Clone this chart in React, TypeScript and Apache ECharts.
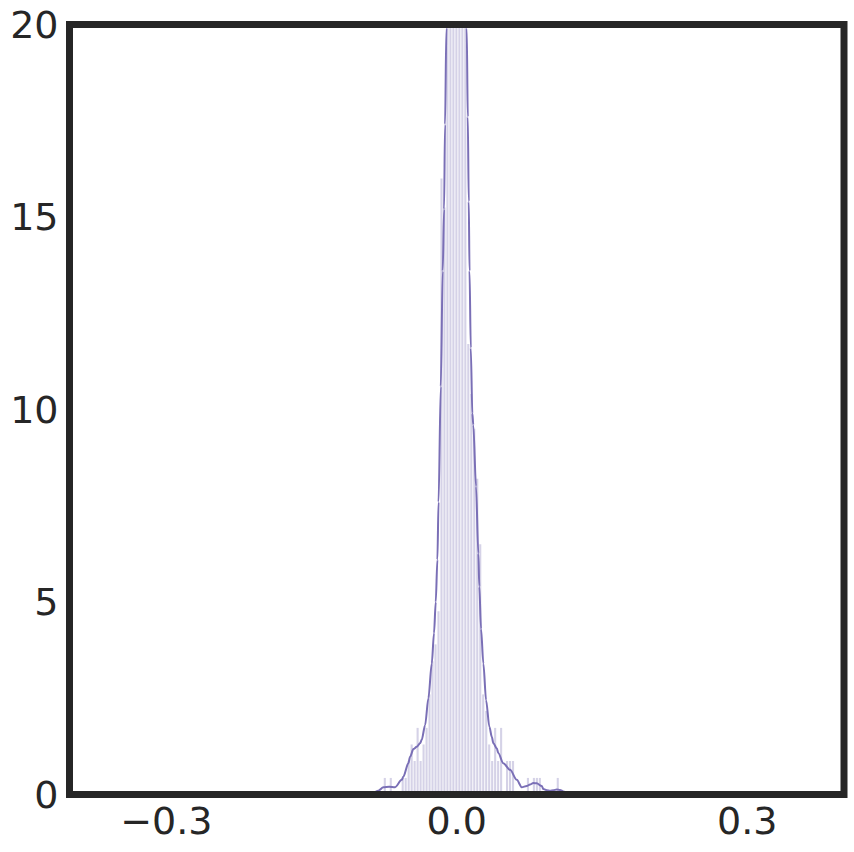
import React, { useEffect, useRef } from "react";
import * as echarts from "echarts";

// Histogram (density) — bins of equal width
const binStart = -0.0743; // centre of first bin
const binWidth = 0.00308;
const histDensity = [
  0.43, 0, 0.43, 0, 0, 0, 0.43, 0.43, 0.87, 1.3,
  0.87, 1.73, 0.87, 1.3, 1.73, 2.6, 3.46, 3.9, 4.76, 16.0,
  15.25, 24, 28, 31, 32, 30, 27, 23, 11.7, 10.4,
  9.5, 8.2, 6.5, 2.6, 2.17, 1.3, 0.87, 1.73, 0.87, 1.73,
  0, 0.87, 0.87, 0.87, 0, 0, 0, 0, 0.43, 0,
  0.43, 0.43, 0.43, 0, 0, 0, 0, 0, 0.43,
];

// KDE curve
const kdeX = [
  -0.0875, -0.081, -0.0758, -0.0699, -0.0637, -0.0568, -0.0552, -0.05, -0.0482, -0.0448,
  -0.0413, -0.0379, -0.0362, -0.0327, -0.0293, -0.0258, -0.0235, -0.0217, -0.02, -0.0188,
  -0.0165, -0.0145, -0.0131, -0.0121, -0.0107, -0.009, -0.0059, -0.0028, 0.0003, 0.0034,
  0.0065, 0.0091, 0.0103, 0.0114, 0.0124, 0.0132, 0.0145, 0.0161, 0.0171, 0.0199,
  0.0223, 0.0233, 0.0251, 0.0275, 0.0303, 0.0337, 0.0362, 0.0378, 0.0413, 0.043,
  0.0481, 0.0551, 0.062, 0.0671, 0.0723, 0.0757, 0.0791, 0.0826, 0.0878, 0.0895,
  0.093, 0.0964, 0.0998, 0.1033, 0.1067, 0.1101, 0.115, 0.1192,
];
const kdeY = [
  0, 0.1, 0.19, 0.2, 0.19, 0.38, 0.46, 0.81, 0.98, 1.18,
  1.24, 1.33, 1.42, 1.8, 2.5, 3.4, 4.19, 5.0, 6.1, 7.6,
  10.6, 13.6, 15.2, 17.4, 19.9, 22.5, 26.5, 29.0, 29.8, 29.0,
  25.5, 21.8, 19.9, 17.6, 15.4, 13.6, 11.6, 9.9, 9.6, 8.0,
  6.26, 5.4, 4.3, 3.4, 2.45, 1.76, 1.5, 1.33, 1.2, 1.07,
  0.81, 0.64, 0.38, 0.19, 0.22, 0.26, 0.3, 0.29, 0.22, 0.14,
  0.11, 0.1, 0.11, 0.13, 0.12, 0.08, 0.02, 0,
];

const xTickValues = [-0.3, 0.0, 0.3];
const xTickLabels = ["\u22120.3", "0.0", "0.3"];
const yTicks = [0, 5, 10, 15, 20];

const LINE = "#7a6fb6";
const INK = "#262626";
const FONT = "DejaVu Sans";

export default function App() {
  const ref = useRef<HTMLDivElement>(null);
  useEffect(() => {
    if (!ref.current) return;
    const chart = echarts.init(ref.current, undefined, { renderer: "svg" });
    const bars = histDensity.map((d, i) => [binStart + i * binWidth, d]);
    const kde = kdeX.map((x, i) => [x, kdeY[i]]);
    const gl = 69.5, gt = 24.5, gw = 774.5, gh = 770;
    chart.setOption({
      animation: false,
      backgroundColor: "#ffffff",
      grid: {
        left: gl,
        top: gt,
        width: gw,
        height: gh,
        outerBoundsMode: "none",
        containLabel: false,
      },
      xAxis: {
        type: "value",
        min: -0.4,
        max: 0.4,
        interval: 0.1,
        axisLine: { show: false },
        axisTick: { show: false },
        splitLine: { show: false },
        axisLabel: {
          margin: 7,
          fontFamily: FONT,
          fontSize: 38,
          color: INK,
          showMinLabel: true,
          showMaxLabel: true,
          formatter: (v: number) => {
            for (let k = 0; k < xTickValues.length; k++) {
              if (Math.abs(v - xTickValues[k]) < 1e-6) return xTickLabels[k];
            }
            return "";
          },
        },
      },
      yAxis: {
        type: "value",
        min: yTicks[0],
        max: yTicks[yTicks.length - 1],
        interval: 5,
        axisLine: { show: false },
        axisTick: { show: false },
        splitLine: { show: false },
        axisLabel: {
          margin: 11,
          fontFamily: FONT,
          fontSize: 38,
          color: INK,
          formatter: (v: number) => String(v),
        },
      },
      series: [
        {
          type: "bar",
          data: bars,
          barWidth: 2.1,
          barGap: "-100%",
          clip: true,
          itemStyle: { color: "rgba(117,107,177,0.3)" },
          z: 2,
        },
        {
          type: "line",
          data: kde,
          showSymbol: false,
          symbol: "none",
          clip: true,
          smooth: 0.3,
          smoothMonotone: "x",
          lineStyle: { color: LINE, width: 2 },
          z: 3,
        },
      ],
      graphic: [
        {
          type: "rect",
          shape: { x: gl, y: gt, width: gw, height: gh },
          style: { fill: "none", stroke: INK, lineWidth: 7 },
          z: 100,
          silent: true,
        },
      ],
    });
    return () => chart.dispose();
  }, []);
  return (
    <div
      ref={ref}
      style={{ position: "fixed", left: 0, top: 0, width: 854, height: 852 }}
    />
  );
}
